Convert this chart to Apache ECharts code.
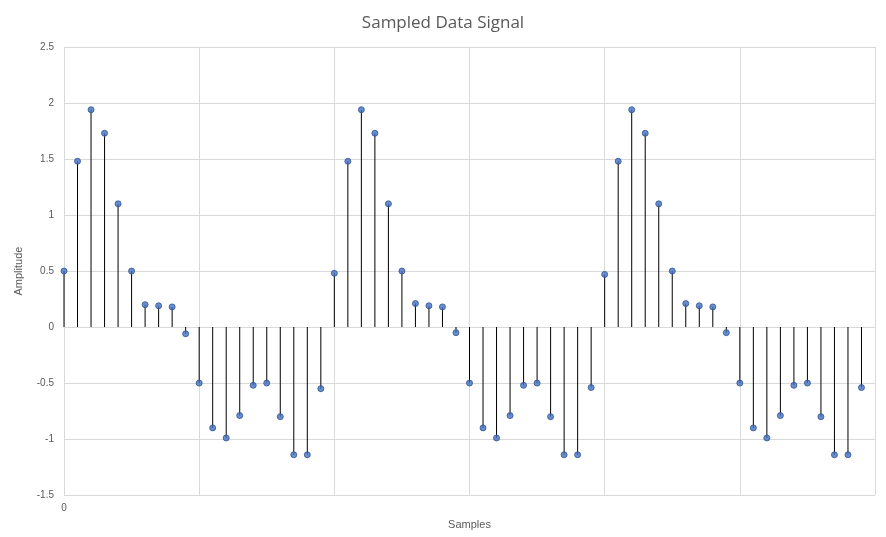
<!DOCTYPE html>
<html>
<head>
<meta charset="UTF-8" />
<script src="https://cdn.jsdelivr.net/npm/echarts@6/dist/echarts.min.js"></script>
<style>html,body{margin:0;padding:0;background:#fff}</style>
</head>
<body>
<div id="chart" style="width:886px;height:537px"></div>
<script>
// amplitude of each sample, three periods of 20
var period1 = [0.5, 1.48, 1.94, 1.73, 1.1, 0.5, 0.2, 0.19, 0.18, -0.06, -0.5, -0.9, -0.99, -0.79, -0.52, -0.5, -0.8, -1.14, -1.14, -0.55];
var period2 = [0.48, 1.48, 1.94, 1.73, 1.1, 0.5, 0.21, 0.19, 0.18, -0.05, -0.5, -0.9, -0.99, -0.79, -0.52, -0.5, -0.8, -1.14, -1.14, -0.54];
var period3 = [0.47, 1.48, 1.94, 1.73, 1.1, 0.5, 0.21, 0.19, 0.18, -0.05, -0.5, -0.9, -0.99, -0.79, -0.52, -0.5, -0.8, -1.14, -1.14, -0.54];
var amplitude = period1.concat(period2, period3);

var points = [];
for (var i = 0; i < amplitude.length; i++) {
    points.push([i, amplitude[i]]);
}

var myChart = echarts.init(document.getElementById("chart"));
var option = {
    animation: false,
    title: {
        text: "Sampled Data Signal",
        left: "center",
        top: 10,
        textStyle: { color: "#595959", fontSize: 17, fontWeight: "normal", fontFamily: "Open Sans" }
    },
    grid: { left: 64, right: 11, top: 47, bottom: 38 },
    xAxis: {
        type: "value",
        min: 0, max: 60, interval: 10,
        name: "Samples",
        nameLocation: "middle",
        nameGap: 0,
        nameTextStyle: { color: "#595959", fontSize: 11, padding: [0, 0, 0, 0], verticalAlign: "top",
            lineHeight: 14 },
        axisLine: { onZero: true, lineStyle: { color: "#d9d9d9" } },
        axisTick: { show: false },
        axisLabel: {
            color: "#595959", fontSize: 10,
            formatter: function (v) { return v === 0 ? "0" : ""; }
        },
        splitLine: { show: true, lineStyle: { color: "#d9d9d9" } }
    },
    yAxis: {
        type: "value",
        min: -1.5, max: 2.5, interval: 0.5,
        name: "Amplitude",
        nameLocation: "middle",
        nameGap: 40,
        nameTextStyle: { color: "#595959", fontSize: 11 },
        axisLine: { show: false },
        axisTick: { show: false },
        axisLabel: { color: "#595959", fontSize: 10, margin: 10 },
        splitLine: { lineStyle: { color: "#d9d9d9" } }
    },
    series: [
        {
            type: "bar",
            data: points,
            barWidth: 1,
            itemStyle: { color: "#000" },
            silent: true
        },
        {
            type: "scatter",
            data: points,
            symbolSize: 6,
            itemStyle: { color: "#4472C4", borderColor: "#2f528f", borderWidth: 1 },
            z: 5
        }
    ]
};
myChart.setOption(option);
// place the x-axis name near the bottom like the original
myChart.setOption({ xAxis: { nameGap: 0 } });
</script>
</body>
</html>
